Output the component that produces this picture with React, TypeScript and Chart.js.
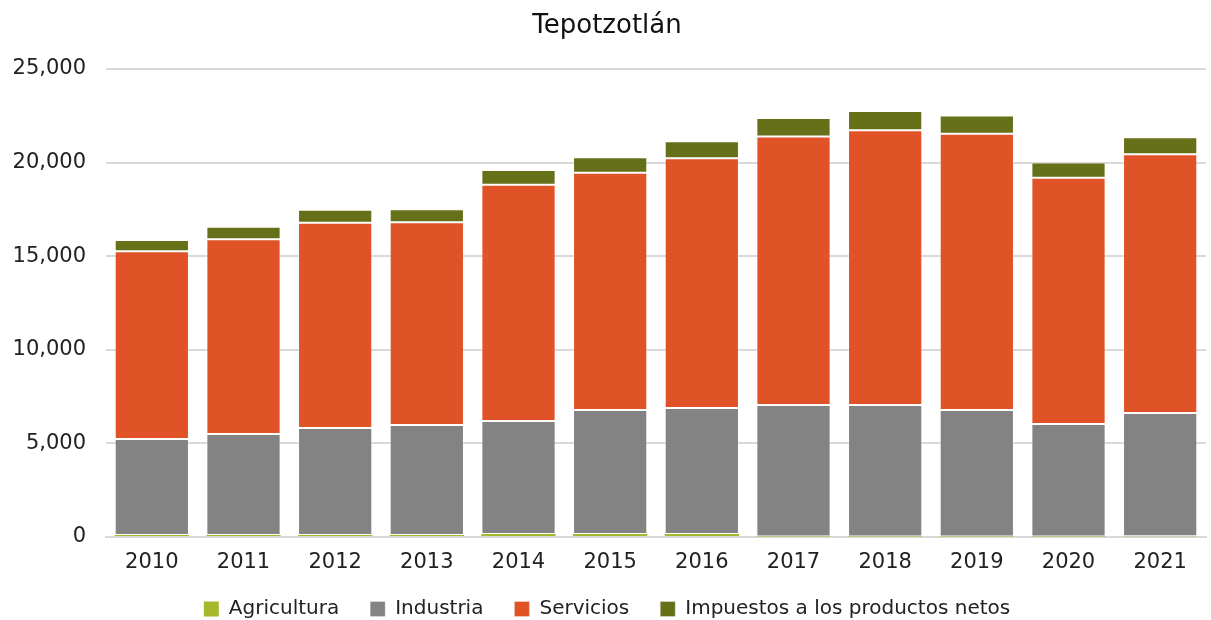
import React, { useEffect, useRef } from "react";
import { Chart, registerables } from "chart.js";

Chart.register(...registerables);

const years = ["2010", "2011", "2012", "2013", "2014", "2015", "2016", "2017", "2018", "2019", "2020", "2021"];
const agricultura = [110, 110, 110, 110, 160, 160, 160, 30, 30, 30, 30, 40];
const industria = [5120, 5390, 5710, 5870, 6040, 6620, 6730, 7020, 7020, 6750, 6000, 6580];
const servicios = [10040, 10400, 10970, 10840, 12620, 12680, 13340, 14350, 14680, 14760, 13160, 13820];
const impuestos = [600, 670, 690, 690, 790, 820, 910, 980, 1020, 980, 820, 910];

const FONT = "'DejaVu Sans', Arial, sans-serif";

const legendFix = {
  id: "legendFix",
  beforeInit(chart: any) {
    const l = chart.legend;
    if (!l) return;
    const orig = l.fit;
    l.fit = function () {
      orig.call(this);
      this.height = 52;
    };
  },
};

export default function App() {
  const ref = useRef<HTMLCanvasElement | null>(null);
  useEffect(() => {
    document.body.style.margin = "0";
    const ctx = ref.current!;
    const mk = (label: string, data: number[], color: string, bw: number) => ({
      label,
      data,
      backgroundColor: color,
      borderColor: "rgba(255,255,255,0.3)",
      borderWidth: bw,
      borderSkipped: false as const,
      barPercentage: 0.81,
      categoryPercentage: 1,
    });
    const chart = new Chart(ctx, {
      type: "bar",
      data: {
        labels: years,
        datasets: [
          mk("Agricultura", agricultura, "#a7b92b", 0),
          mk("Industria", industria, "#838383", 1),
          mk("Servicios", servicios, "#e05327", 1),
          mk("Impuestos a los productos netos", impuestos, "#667019", 1),
        ],
      },
      plugins: [legendFix],
      options: {
        animation: false,
        responsive: false,
        layout: { padding: { left: 8, right: 5, top: 0, bottom: 0 } },
        plugins: {
          title: {
            display: true,
            text: "Tepotzotlán",
            color: "#111",
            font: { family: FONT, size: 26, weight: "normal", lineHeight: 1.2 },
            padding: { top: 11, bottom: 26.8 },
          },
          legend: {
            position: "bottom",
            labels: {
              color: "#222",
              font: { family: FONT, size: 20 },
              boxWidth: 15,
              boxHeight: 15,
              padding: 31,
            },
          },
          tooltip: { enabled: false },
        },
        scales: {
          x: {
            stacked: true,
            grid: { display: false },
            border: { color: "#d9d9d9", width: 2 },
            afterFit: (s: any) => {
              s.height = 31;
            },
            ticks: { color: "#222", font: { family: FONT, size: 21 }, padding: 5 },
          },
          y: {
            stacked: true,
            min: 0,
            max: 25000,
            afterFit: (s: any) => {
              s.width = 98;
            },
            grid: { color: "#d9d9d9", lineWidth: 2, drawTicks: false },
            border: { display: false },
            ticks: {
              stepSize: 5000,
              color: "#222",
              padding: 20,
              font: { family: FONT, size: 21 },
              callback: (v: any) => Number(v).toLocaleString("en-US"),
            },
          },
        },
      },
    });
    return () => chart.destroy();
  }, []);
  return (
    <div style={{ width: 1211, height: 620 }}>
      <canvas ref={ref} width={1211} height={620} style={{ display: "block" }} />
    </div>
  );
}
